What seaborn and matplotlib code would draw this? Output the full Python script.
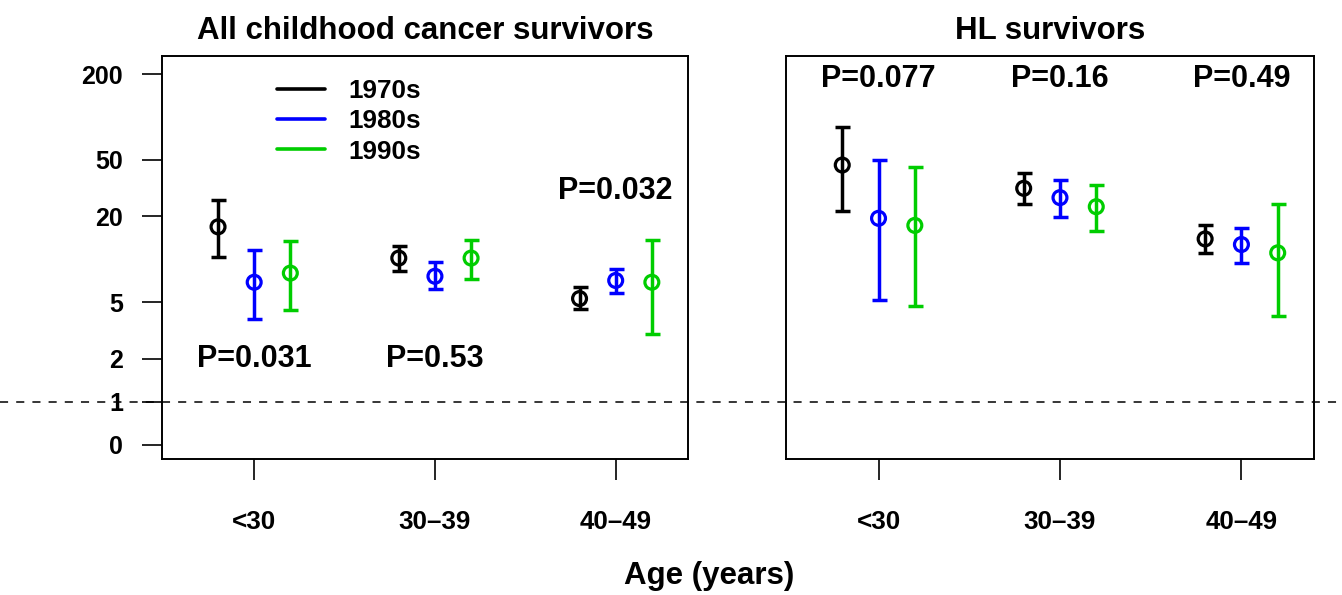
import matplotlib
matplotlib.use("Agg")
import matplotlib.pyplot as plt
import matplotlib.transforms as mtransforms
from matplotlib.lines import Line2D
from matplotlib.ticker import NullLocator
import pandas as pd
import seaborn as sns

sns.set_style("ticks")
plt.rcParams["font.family"] = ["Liberation Sans", "DejaVu Sans"]
plt.rcParams["font.weight"] = "bold"
for key in ["text.color", "axes.edgecolor", "axes.labelcolor", "xtick.color", "ytick.color"]:
    plt.rcParams[key] = "black"

ages = ["<30", "30\u201339", "40\u201349"]
decades = ["1970s", "1980s", "1990s"]
palette = {"1970s": "#000000", "1980s": "#0000FF", "1990s": "#00CD00"}

# All childhood cancer survivors: estimate, lower and upper limits per age group
all_1970s_est = [16.9, 10.2, 5.3]
all_1970s_lo = [10.3, 8.3, 4.5]
all_1970s_hi = [26.2, 12.3, 6.4]
all_1980s_est = [6.9, 7.6, 7.1]
all_1980s_lo = [3.8, 6.2, 5.8]
all_1980s_hi = [11.6, 9.5, 8.6]
all_1990s_est = [8.0, 10.2, 6.9]
all_1990s_lo = [4.4, 7.3, 3.0]
all_1990s_hi = [13.4, 13.6, 13.7]

# HL survivors
hl_1970s_est = [45.9, 31.5, 13.9]
hl_1970s_lo = [21.9, 24.3, 11.0]
hl_1970s_hi = [84.5, 40.6, 17.4]
hl_1980s_est = [19.4, 27.1, 12.7]
hl_1980s_lo = [5.2, 19.9, 9.4]
hl_1980s_hi = [49.5, 35.9, 16.7]
hl_1990s_est = [17.3, 23.4, 11.1]
hl_1990s_lo = [4.7, 15.7, 4.0]
hl_1990s_hi = [44.3, 33.4, 24.3]

all_p = ["P=0.031", "P=0.53", "P=0.032"]
all_p_y = [2, 2, 30]
hl_p = ["P=0.077", "P=0.16", "P=0.49"]
hl_p_y = [185, 185, 185]

ytick_vals = [0.5, 1, 2, 5, 20, 50, 200]
ytick_labels = ["0", "1", "2", "5", "20", "50", "200"]


def make_df(series):
    rows = []
    for k, dec in enumerate(decades):
        est, lo, hi = series[dec]
        for i, age in enumerate(ages):
            rows.append({"age": age, "decade": dec, "x": i + 1 + (k - 1) * 0.2,
                         "est": est[i], "lo": lo[i], "hi": hi[i]})
    return pd.DataFrame(rows)


df_all = make_df({"1970s": (all_1970s_est, all_1970s_lo, all_1970s_hi),
                  "1980s": (all_1980s_est, all_1980s_lo, all_1980s_hi),
                  "1990s": (all_1990s_est, all_1990s_lo, all_1990s_hi)})
df_hl = make_df({"1970s": (hl_1970s_est, hl_1970s_lo, hl_1970s_hi),
                 "1980s": (hl_1980s_est, hl_1980s_lo, hl_1980s_hi),
                 "1990s": (hl_1990s_est, hl_1990s_lo, hl_1990s_hi)})

fig = plt.figure(figsize=(13.42, 5.95), dpi=100)
axL = fig.add_axes([162 / 1342, 1 - 459 / 595, 526 / 1342, 403 / 595])
axR = fig.add_axes([786 / 1342, 1 - 459 / 595, 528 / 1342, 403 / 595])


def draw(ax, df, pvals, py, title, show_y):
    ax.set_yscale("log")
    for dec in decades:
        d = df[df.decade == dec]
        ax.errorbar(d.x, d.est, yerr=[d.est - d.lo, d.hi - d.est], fmt="none",
                    ecolor=palette[dec], elinewidth=2.5, capsize=5.4, capthick=2.5)
    sns.scatterplot(data=df, x="x", y="est", hue="decade", hue_order=decades,
                    palette=palette, marker="o", s=100, linewidth=2.3,
                    legend=False, ax=ax, zorder=3)
    pts = ax.collections[-1]
    pts.set_edgecolors(pts.get_facecolors())
    pts.set_facecolors("none")

    for i, (p, y) in enumerate(zip(pvals, py)):
        ax.text(i + 1, y, p, ha="center", va="center", fontsize=22, fontweight="bold")

    ax.set_xlim(0.49, 3.40)
    ax.set_ylim(0.396, 267.6)
    ax.set_xticks([1, 2, 3])
    ax.set_xticklabels(ages)
    ax.set_yticks(ytick_vals)
    ax.set_yticklabels(ytick_labels)
    ax.yaxis.set_minor_locator(NullLocator())
    ax.set_xlabel("")
    ax.set_ylabel("")
    ax.tick_params(axis="x", length=15, width=1.2, pad=21.5, labelsize=18.7)
    ax.tick_params(axis="y", length=14.4, width=1.2, pad=13.5, labelsize=18)
    if not show_y:
        ax.tick_params(axis="y", left=False, labelleft=False)
    for sp in ax.spines.values():
        sp.set_linewidth(1.4)
    ax.set_title(title, fontsize=22.5, fontweight="bold", pad=12.5)


draw(axL, df_all, all_p, all_p_y, "All childhood cancer survivors", True)
draw(axR, df_hl, hl_p, hl_p_y, "HL survivors", False)

handles = [Line2D([], [], color=palette[d], lw=2.6) for d in decades]
axL.legend(handles, decades, loc="upper left", bbox_to_anchor=(0.2186, 0.943),
           frameon=False, fontsize=18.8, handlelength=1.85, handletextpad=0.9,
           labelspacing=0.24, borderaxespad=0, borderpad=0)

# reference line at 1 across the whole figure
trans = mtransforms.blended_transform_factory(fig.transFigure, axL.transData)
fig.add_artist(Line2D([0, 1], [1, 1], transform=trans, color="black", lw=1.1,
                      ls=(0, (5.3, 5.3)), zorder=10))

fig.text(709.5 / 1342, 1 - 576 / 595, "Age (years)", ha="center", va="center",
         fontsize=22.5, fontweight="bold")

fig.savefig("out.png", dpi=100)
